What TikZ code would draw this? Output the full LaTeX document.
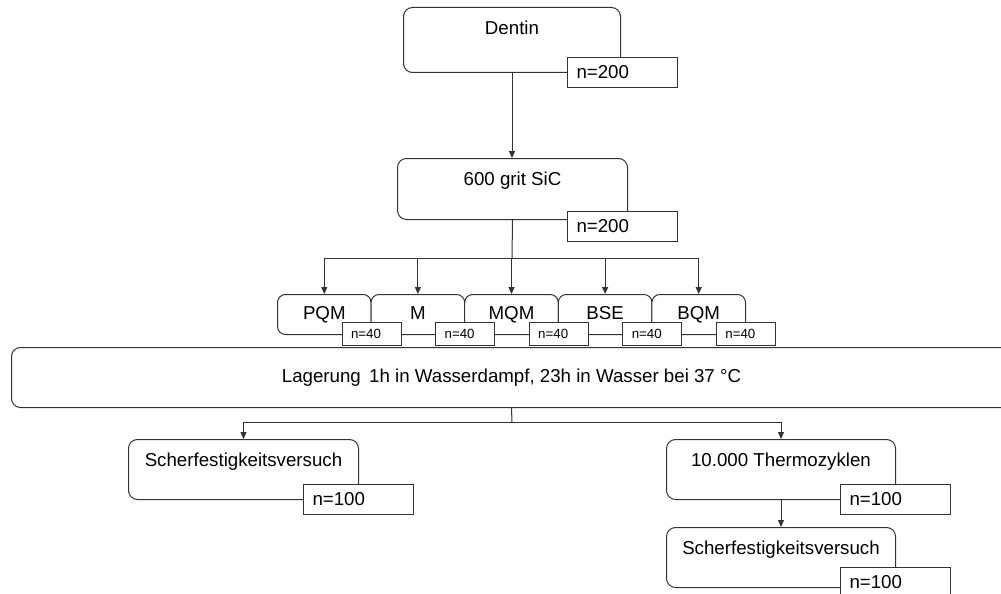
\documentclass[tikz,border=0pt]{standalone}
\usepackage{fontspec}
\setmainfont{Liberation Sans}
\usetikzlibrary{arrows.meta}
\newcommand{\bigtext}{\fontsize{18.7}{22}\selectfont}
\newcommand{\smalltext}{\fontsize{13.3}{16}\selectfont}
\tikzset{
    box/.style={draw=black!80, line width=1pt, fill=white, anchor=north west, font=\bigtext},
    stage/.style={box, rounded corners=9pt, inner sep=0pt, text height=27pt, text depth={#1pt-27pt}},
    group/.style={box, rounded corners=8pt, inner sep=0pt, minimum width=93.6pt, text height=24.7pt, text depth=15.3pt},
    tally/.style={box, inner xsep=9pt, inner ysep=0pt, minimum height=30pt, text width=92pt, align=left},
    tallysmall/.style={tally, minimum height=23pt, text width=41pt, font=\smalltext},
    flow/.style={draw=black!80, line width=1pt, -{Triangle[length=7pt,width=6pt]}}
}
\begin{document}
\begin{tikzpicture}[x=1pt, y=-1pt]
    \clip (0,0) rectangle (1001,594);
    % top of the tree
    \node[stage=65, minimum width=217pt] (dentin) at (403,7) {Dentin};
    \node[tally] (ndentin) at (567,57) {n=200};
    \node[stage=61, minimum width=230pt] (sic) at (397,158) {600 grit SiC};
    \node[tally] (nsic) at (567,211) {n=200};
    \coordinate (split1) at (512,258);
    % the five groups
    \foreach \lbl [count=\i] in {PQM, M, MQM, BSE, BQM} {
        \node[group] (g\i) at ({277+93.6*(\i-1)},294) {\lbl};
    }
    \foreach \i in {1, ..., 5} {
        \node[tallysmall] (t\i) at ({341.5+93.6*(\i-1)},322) {n=40};
    }
    \node[box, rounded corners=9pt, minimum width=1000pt, minimum height=60pt] (store) at (11,347)
        {Lagerung\, 1h in Wasserdampf, 23h in Wasser bei 37 °C};
    \coordinate (split2) at (512,422);
    % the two branches
    \node[stage=60, minimum width=230pt] (shear) at (128,439) {Scherfestigkeitsversuch};
    \node[tally] (nshear) at (303,484) {n=100};
    \node[stage=60, minimum width=229pt] (thermo) at (666,439) {10.000 Thermozyklen};
    \node[tally] (nthermo) at (840,484) {n=100};
    \node[stage=60, minimum width=229pt] (sheartc) at (666,527) {Scherfestigkeitsversuch};
    \node[tally] (nsheartc) at (840,567) {n=100};
    % connectors
    \draw[flow] (dentin.south) -- (dentin.south |- sic.north);
    \draw[flow, -] (sic.south) -- (split1);
    \foreach \i in {1, ..., 5} {
        \draw[flow] (split1) -| (g\i.north);
    }
    \draw[flow, -] (store.south) -- (split2);
    \draw[flow] (split2) -| (shear.north);
    \draw[flow] (split2) -| (thermo.north);
    \draw[flow] (thermo.south) -- (sheartc.north);
\end{tikzpicture}
\end{document}
